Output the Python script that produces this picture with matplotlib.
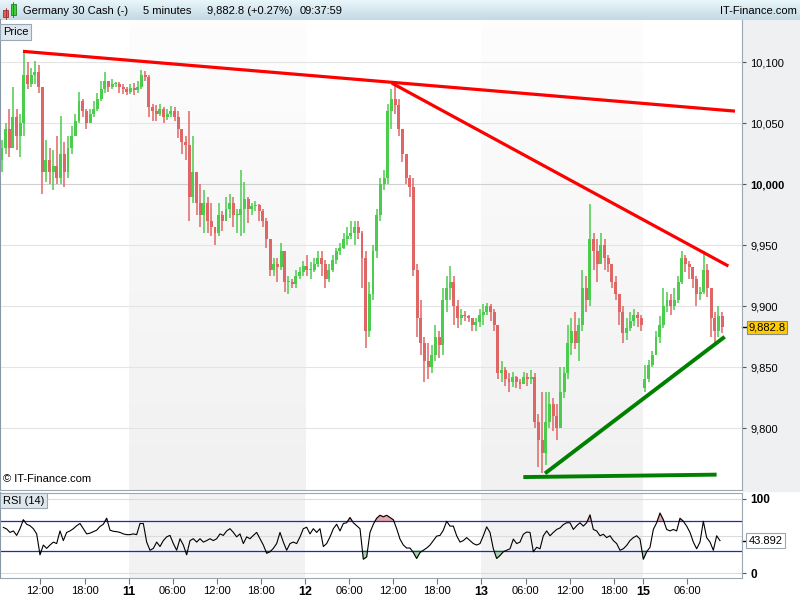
import numpy as np
import matplotlib
matplotlib.use("Agg")
import matplotlib.pyplot as plt
from matplotlib.patches import Rectangle
from matplotlib.colors import LinearSegmentedColormap
from matplotlib.transforms import blended_transform_factory

plt.rcParams['font.family'] = ['Liberation Sans', 'DejaVu Sans']

# Germany 30 Cash, shown here as 30-minute bars (hours since 06:30 on the 10th)
first_open = 10020
monday_open = 9833
closes = [10030, 10045, 10030, 10055, 10040, 10050, 10090, 10082, 10090, 10092,
          10080, 10010, 10020, 10010, 10015, 10005, 10025, 10010, 10030, 10040,
          10052, 10068, 10060, 10050, 10058, 10062, 10070, 10078, 10085, 10080,
          10082, 10082, 10080, 10078, 10076, 10079, 10077, 10080, 10090, 10088,
          10063, 10060, 10058, 10062, 10055, 10058, 10060, 10055, 10045, 10035,
          10032, 9990, 10010, 9985, 9975, 9985, 9970, 9965, 9960, 9975,
          9970, 9980, 9985, 9975, 9975, 9980, 9988, 9980, 9982, 9983,
          9978, 9970, 9955, 9930, 9935, 9932, 9945, 9920, 9920, 9918,
          9925, 9928, 9933, 9930, 9930, 9935, 9940, 9935, 9922, 9930,
          9938, 9945, 9948, 9955, 9958, 9960, 9965, 9960, 9940, 9880,
          9910, 9945, 9975, 10000, 10005, 10060, 10070, 10065, 10045, 10025,
          10005, 9998, 9930, 9890, 9870, 9855, 9850, 9860, 9875, 9868,
          9905, 9915, 9920, 9900, 9890, 9893, 9892, 9890, 9885, 9887,
          9893, 9895, 9900, 9895, 9885, 9845, 9848, 9840, 9838, 9842,
          9838, 9836, 9842, 9840, 9842, 9805, 9790, 9780, 9805, 9820,
          9810, 9800, 9830, 9845, 9870, 9880, 9870, 9885, 9915, 9905,
          9955, 9945, 9935, 9950, 9940, 9935, 9920, 9910, 9895, 9878,
          9882, 9888, 9893, 9890, 9885, 9840, 9852, 9860, 9875, 9885,
          9900, 9905, 9900, 9905, 9920, 9940, 9935, 9932, 9922, 9910,
          9912, 9930, 9915, 9890, 9880, 9892, 9882.8]
highs = [10036, 10050, 10062, 10080, 10062, 10058, 10110, 10100, 10095, 10101,
         10098, 10080, 10036, 10030, 10028, 10040, 10056, 10035, 10040, 10048,
         10058, 10076, 10070, 10062, 10062, 10068, 10075, 10085, 10092, 10085,
         10086, 10084, 10084, 10082, 10080, 10082, 10083, 10085, 10094, 10093,
         10090, 10066, 10065, 10066, 10063, 10062, 10064, 10063, 10060, 10045,
         10040, 10060, 10040, 10010, 10000, 9995, 9990, 9985, 9965, 9985,
         9978, 9990, 9992, 9990, 9980, 10012, 10002, 9990, 9985, 9986,
         9984, 9980, 9972, 9955, 9940, 9940, 9952, 9945, 9925, 9922,
         9930, 9932, 9937, 9942, 9936, 9940, 9945, 9945, 9938, 9935,
         9942, 9948, 9952, 9960, 9965, 9970, 9970, 9970, 9962, 9945,
         9920, 9950, 9980, 10005, 10012, 10066, 10078, 10083, 10070, 10045,
         10025, 10008, 10005, 9935, 9905, 9875, 9870, 9868, 9885, 9880,
         9915, 9925, 9933, 9925, 9905, 9898, 9896, 9893, 9890, 9890,
         9898, 9902, 9903, 9902, 9898, 9885, 9855, 9850, 9845, 9846,
         9843, 9840, 9846, 9845, 9848, 9845, 9812, 9830, 9830, 9830,
         9825, 9820, 9850, 9850, 9885, 9890, 9895, 9890, 9930, 9925,
         9984, 9960, 9955, 9960, 9955, 9942, 9935, 9925, 9910, 9900,
         9890, 9895, 9898, 9895, 9893, 9852, 9856, 9863, 9880, 9892,
         9915, 9912, 9910, 9915, 9925, 9945, 9942, 9937, 9932, 9925,
         9916, 9945, 9935, 9915, 9895, 9900, 9895]
lows = [10010, 10025, 10022, 10030, 10028, 10022, 10040, 10078, 10080, 10082,
        10075, 9992, 10002, 10000, 9995, 10000, 10000, 9998, 10005, 10025,
        10040, 10050, 10055, 10045, 10050, 10055, 10060, 10068, 10075, 10076,
        10078, 10080, 10075, 10074, 10073, 10074, 10073, 10075, 10078, 10085,
        10055, 10052, 10052, 10056, 10050, 10053, 10055, 10052, 10038, 10025,
        10020, 9970, 9985, 9975, 9965, 9960, 9960, 9958, 9950, 9958,
        9962, 9970, 9972, 9965, 9960, 9958, 9960, 9968, 9975, 9978,
        9970, 9965, 9948, 9925, 9925, 9920, 9930, 9912, 9910, 9915,
        9915, 9922, 9925, 9925, 9922, 9928, 9932, 9925, 9915, 9920,
        9928, 9935, 9942, 9947, 9950, 9955, 9950, 9955, 9915, 9866,
        9875, 9905, 9940, 9970, 9995, 10000, 10045, 10058, 10040, 10018,
        10000, 9990, 9925, 9875, 9860, 9838, 9840, 9845, 9855, 9858,
        9860, 9895, 9905, 9885, 9882, 9885, 9888, 9887, 9880, 9880,
        9883, 9885, 9893, 9888, 9880, 9840, 9838, 9835, 9830, 9834,
        9833, 9832, 9836, 9835, 9836, 9800, 9768, 9763, 9770, 9800,
        9798, 9790, 9800, 9825, 9840, 9860, 9865, 9855, 9880, 9895,
        9900, 9930, 9920, 9935, 9930, 9928, 9915, 9905, 9885, 9870,
        9872, 9880, 9884, 9883, 9880, 9830, 9838, 9850, 9860, 9870,
        9882, 9895, 9893, 9897, 9903, 9918, 9928, 9922, 9915, 9900,
        9905, 9910, 9908, 9875, 9868, 9875, 9878]

# RSI(14), one value every ~27 minutes
rsi = [61.7, 59.6, 55, 57, 51, 60, 72, 66, 64, 60,
       53, 25, 38, 33.5, 38, 42, 40, 57, 44, 55,
       57, 60, 64, 67, 60, 53, 54, 56, 58, 63,
       66, 74, 58, 56.5, 56, 55, 53, 52, 52, 53,
       52, 67, 67, 42, 31, 33.5, 42, 36, 44, 49,
       51, 40, 31, 46.5, 38, 25, 44, 46.5, 42, 46.5,
       42, 44, 46.5, 44, 46.5, 53, 51, 57, 60, 55,
       49, 53, 40, 49, 46.5, 51, 55, 46.5, 38, 27,
       29, 33.5, 40, 55, 42, 31, 40, 42, 40, 49,
       60, 62, 53, 60, 55, 60, 36, 40, 49, 60,
       66, 57, 67, 68, 75, 68, 64, 60,
       19, 22, 55, 66, 74, 78, 76, 78, 75, 72,
       60, 46, 38, 34, 34, 28, 20, 28, 31, 34,
       38, 44, 50, 51, 58, 70, 63.5, 63.5, 50.5, 42,
       44, 48, 44, 40, 38, 40, 50.5, 62.5, 55, 33,
       20, 24, 29, 31, 33, 46, 40, 42, 52.5, 55.5,
       55, 29, 35, 33, 50.5, 57, 50.5, 55, 59, 61,
       65.5, 68, 68, 59, 64, 68, 63.5, 68, 78.5, 59,
       57, 50.5, 52.5, 48, 50.5, 44, 40, 31, 33, 37.5,
       44, 48, 50.5, 46, 19, 29, 35, 59, 68, 81,
       72, 59, 57, 59, 57, 74, 70, 63.5, 55, 42,
       33, 42, 70, 48, 42, 31, 50.5, 43.892]

tick_pos = [5.5, 11.5, 17.5, 23.5, 29.5, 35.5, 41.5, 47.5, 53.5, 59.5,
            65.5, 71.5, 77.5, 83.5, 87.5, 93.5]
tick_lab = ['12:00', '18:00', '11', '06:00', '12:00', '18:00', '12', '06:00',
            '12:00', '18:00', '13', '06:00', '12:00', '18:00', '15', '06:00']
day_labels = ['11', '12', '13', '15']
shaded_days = [(17.5, 41.5), (65.5, 87.5)]
price_ticks = [9800, 9850, 9900, 9950, 10000, 10050, 10100]

# hand drawn trend lines (time, price)
res_long = ([3.13, 100.0], [10109, 10060])
res_short = ([53.3, 99.1], [10083, 9933])
sup_rise = ([74.15, 98.6], [9763, 9875])
sup_flat = ([71.2, 97.5], [9760, 9762])

UP = '#4ccc4c'
DOWN = '#e06666'

W, H = 800, 600
def box(x, y, w, h):
    return [x / W, 1 - (y + h) / H, w / W, h / H]

fig = plt.figure(figsize=(8, 6), dpi=100)
fig.patch.set_facecolor('white')

# backdrop: grey price column
bg = fig.add_axes([0, 0, 1, 1], zorder=0)
bg.set_xlim(0, W); bg.set_ylim(H, 0); bg.axis('off')
bg.add_patch(Rectangle((742, 20), 58, 471, color='#eef0f2'))

# title bar
tb = fig.add_axes(box(0, 0, 800, 20), zorder=1)
tb_cmap = LinearSegmentedColormap.from_list('tb', ['#e8f6fb', '#c4d9e4'])
tb.imshow(np.linspace(0, 1, 20).reshape(-1, 1), cmap=tb_cmap, aspect='auto',
          extent=(0, 800, 20, 0))
tb.set_xlim(0, 800); tb.set_ylim(20, 0); tb.axis('off')
tb.add_patch(Rectangle((3, 10), 5, 7, fc='#e06060', ec='#a03030', lw=0.6))
tb.plot([5.5, 5.5], [8, 19], color='#a03030', lw=0.6)
tb.add_patch(Rectangle((10.5, 3.5), 5, 11, fc='#44cc44', ec='#208020', lw=0.6))
tb.plot([13, 13], [2, 17], color='#208020', lw=0.6)
tb.text(23, 10.5, 'Germany 30 Cash (-)', fontsize=8, va='center')
tb.text(143, 10.5, '5 minutes', fontsize=8, va='center')
tb.text(207, 10.5, '9,882.8 (+0.27%)', fontsize=8, va='center')
tb.text(300, 10.5, '09:37:59', fontsize=8, va='center')
tb.text(797, 10.5, 'IT-Finance.com', fontsize=8, va='center', ha='right')

# main price panel
t = 0.25 + 0.5 * np.arange(len(closes))
c = np.array(closes, dtype=float)
o = np.r_[first_open, c[:-1]]
o[np.searchsorted(t, tick_pos[14])] = monday_open
hi = np.array(highs, dtype=float)
lo = np.array(lows, dtype=float)
col = np.where(c >= o, UP, DOWN)

ax = fig.add_axes(box(0, 20, 742, 470), zorder=2)
ax.set_xlim(0, 742 / 7.35)
ax.set_ylim(9749.4, 10134.7)
for a, b in shaded_days:
    g = LinearSegmentedColormap.from_list('sh', ['#fdfdfd', '#f1f1f1'])
    ax.imshow(np.linspace(0, 1, 50).reshape(-1, 1), cmap=g, aspect='auto',
              extent=(a, b, 9749.4, 10134.7), origin='upper', zorder=0)
for p in price_ticks:
    ax.axhline(p, color='#cfcfcf' if p == 10000 else '#e4e4e4', lw=0.8, zorder=0.5)

ax.vlines(t, lo, hi, colors=col, lw=1.1, zorder=2)
ax.bar(t, np.maximum(np.abs(c - o), 0.8), bottom=np.minimum(o, c), width=0.4,
       color=col, linewidth=0, zorder=2)

ax.plot(*res_long, color='#ff0000', lw=2.3, solid_capstyle='butt', zorder=3)
ax.plot(*res_short, color='#ff0000', lw=2.3, solid_capstyle='butt', zorder=3)
ax.plot(*sup_rise, color='#008000', lw=2.8, solid_capstyle='butt', zorder=3)
ax.plot(*sup_flat, color='#008000', lw=2.8, solid_capstyle='butt', zorder=3)

ax.set_xticks([])
ax.yaxis.tick_right()
ax.set_yticks(price_ticks)
ax.set_yticklabels([f'{p:,}' for p in price_ticks])
ax.tick_params(axis='y', direction='out', length=3, pad=3, labelsize=8,
               color='#555555')
for lab in ax.get_yticklabels():
    if lab.get_text() == '10,000':
        lab.set_fontweight('bold')
ax.spines['top'].set_visible(False)
ax.spines['left'].set_color('#8797a5'); ax.spines['left'].set_linewidth(1.5)
ax.spines['right'].set_color('#9aa6b0')
ax.spines['bottom'].set_color('#9aa6b0')

bt = blended_transform_factory(ax.transAxes, ax.transData)
ax.plot([1.0, 1.006], [c[-1], c[-1]], color='black', lw=1, transform=bt, clip_on=False)
ax.text(1.009, c[-1], f'{c[-1]:,.1f}', transform=bt, fontsize=8, va='center',
        bbox=dict(boxstyle='square,pad=0.15', fc='#ffcc00', ec='#8a8a8a', lw=0.8))
ax.text(0.004, 0.012, '\u00a9 IT-Finance.com', transform=ax.transAxes, fontsize=8,
        va='bottom', zorder=5)
ax.text(0.004, 0.985, 'Price', transform=ax.transAxes, fontsize=8, va='top',
        zorder=5, bbox=dict(boxstyle='square,pad=0.25', fc='#dfe7ee', ec='#9aa8b4', lw=0.8))

# RSI panel
r = np.array(rsi)
rt = np.arange(1, len(r) + 1) * (10 / 3) / 7.35
axr = fig.add_axes(box(0, 493, 742, 85), zorder=2)
axr.set_xlim(0, 742 / 7.35)
axr.set_ylim(-6.3, 108)
for a, b in shaded_days:
    axr.axvspan(a, b, color='#f2f2f2', lw=0, zorder=0)
for lvl in [0, 50, 100]:
    axr.axhline(lvl, color='#dcdcdc', lw=0.8, zorder=0.5)
axr.fill_between(rt, r, 70, where=r > 70, interpolate=True, color='#e4a8a8', zorder=1)
axr.fill_between(rt, r, 30, where=r < 30, interpolate=True, color='#a8d4a8', zorder=1)
axr.axhline(70, color='#2424c8', lw=0.9, zorder=1.5)
axr.axhline(30, color='#2424c8', lw=0.9, zorder=1.5)
axr.plot(rt, r, color='black', lw=0.8, zorder=2)

axr.yaxis.tick_right()
axr.set_yticks([0, 100])
axr.set_yticklabels(['0', '100'], fontweight='bold')
axr.tick_params(axis='y', direction='out', length=3, pad=3, labelsize=8.5, color='#555555')
axr.set_xticks(tick_pos)
axr.set_xticklabels(tick_lab)
axr.tick_params(axis='x', direction='out', length=4, pad=2, labelsize=8, color='#777777')
for lab in axr.get_xticklabels():
    if lab.get_text() in day_labels:
        lab.set_fontweight('bold'); lab.set_fontsize(9)
axr.spines['left'].set_color('#8797a5'); axr.spines['left'].set_linewidth(1.5)
for s in ['top', 'right', 'bottom']:
    axr.spines[s].set_color('#9aa6b0')

btr = blended_transform_factory(axr.transAxes, axr.transData)
axr.plot([1.0, 1.006], [r[-1], r[-1]], color='black', lw=1, transform=btr, clip_on=False)
axr.text(1.009, r[-1], f'{r[-1]:.3f}', transform=btr, fontsize=8, va='center',
         bbox=dict(boxstyle='square,pad=0.2', fc='white', ec='#9aa6b0', lw=0.8))
axr.text(0.004, 0.97, 'RSI (14)', transform=axr.transAxes, fontsize=8, va='top',
         zorder=5, bbox=dict(boxstyle='square,pad=0.25', fc='#dfe7ee', ec='#9aa8b4', lw=0.8))

fig.savefig('out.png', dpi=100)
